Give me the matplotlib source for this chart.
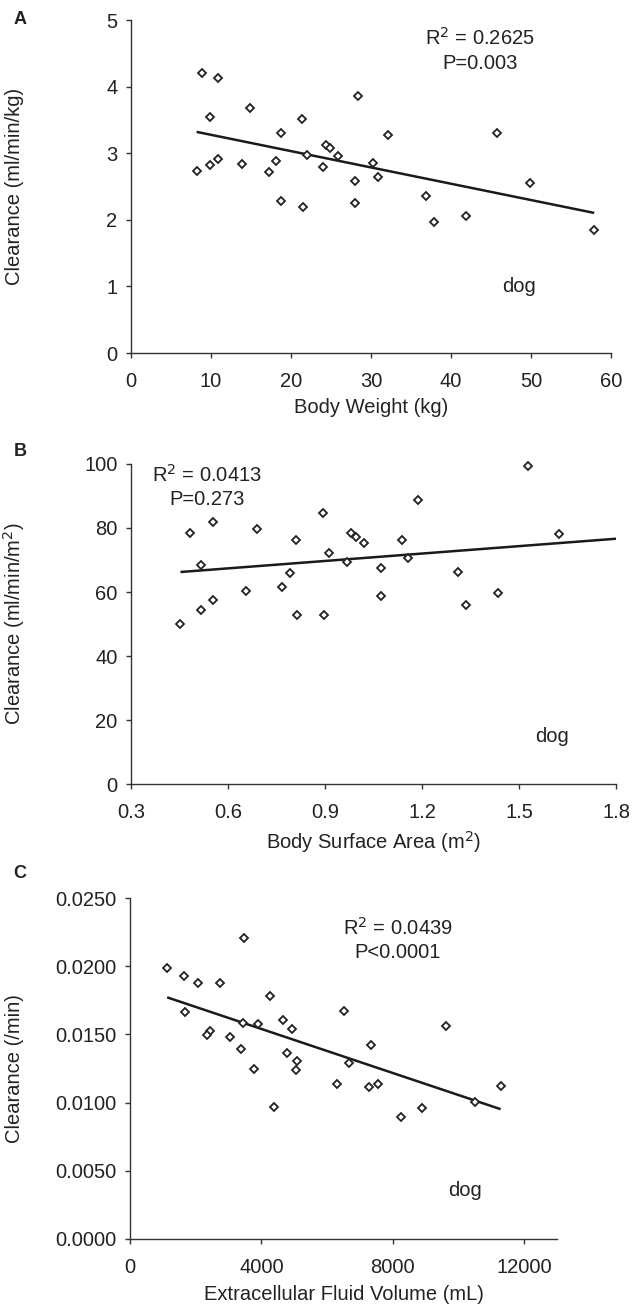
import numpy as np
import matplotlib
matplotlib.use("Agg")
import matplotlib.pyplot as plt
from matplotlib.ticker import FormatStrFormatter

plt.rcParams['font.family'] = ['Liberation Sans', 'DejaVu Sans']

# ---------------- data ----------------
# Panel A: body weight (kg) vs clearance (ml/min/kg)
bw_kg = [8.2, 8.9, 10.9, 9.9, 9.9, 10.9, 14.9, 13.9, 18.7, 18.1, 17.3, 18.7,
         21.4, 22.0, 21.5, 24.4, 24.9, 24.0, 25.9, 28.0, 28.0, 28.4, 30.2,
         30.9, 32.1, 36.9, 37.9, 41.9, 45.7, 49.9, 57.9]
cl_kg = [2.74, 4.20, 4.13, 3.55, 2.82, 2.91, 3.68, 2.84, 3.30, 2.88, 2.72, 2.28,
         3.52, 2.97, 2.19, 3.13, 3.08, 2.80, 2.96, 2.59, 2.25, 3.86, 2.86,
         2.64, 3.27, 2.35, 1.97, 2.05, 3.31, 2.55, 1.84]

# Panel B: body surface area (m2) vs clearance (ml/min/m2)
bsa_m2 = [0.453, 0.481, 0.517, 0.517, 0.554, 0.555, 0.657, 0.690, 0.768, 0.793,
          0.809, 0.814, 0.893, 0.896, 0.911, 0.968, 0.980, 0.996, 1.022, 1.074,
          1.074, 1.137, 1.157, 1.189, 1.311, 1.337, 1.436, 1.529, 1.625]
cl_m2 = [50.1, 78.4, 68.4, 54.3, 82.0, 57.6, 60.3, 79.7, 61.6, 65.9,
         76.4, 52.8, 84.7, 52.8, 72.1, 69.4, 78.4, 77.3, 75.3, 67.4,
         58.6, 76.1, 70.5, 88.6, 66.1, 55.8, 59.8, 99.3, 78.2]
# regression line shown in panel B (slope, intercept)
trend_b = [7.72, 62.75]

# Panel C: extracellular fluid volume (mL) vs clearance (/min)
ecf_ml = [1131, 1647, 1668, 2081, 2748, 2445, 2354, 3042, 3376, 3458, 3436,
          3882, 3761, 4277, 4377, 4659, 4944, 4780, 5096, 5044, 6521, 6673,
          6309, 7340, 7288, 7561, 9633, 8259, 8896, 10494, 11283]
cl_min = [0.01985, 0.01926, 0.01662, 0.01875, 0.01880, 0.01527, 0.01493,
          0.01478, 0.01392, 0.02206, 0.01586, 0.01576, 0.01245, 0.01779,
          0.00971, 0.01605, 0.01537, 0.01365, 0.01306, 0.01238, 0.01672,
          0.01292, 0.01140, 0.01424, 0.01113, 0.01140, 0.01564, 0.00895,
          0.00958, 0.01007, 0.01120]

# ---------------- layout ----------------
W, H = 632, 1308
fig = plt.figure(figsize=(W / 100, H / 100), dpi=100)

def px_axes(left, top, right, bottom):
    return fig.add_axes([left / W, 1 - bottom / H, (right - left) / W, (bottom - top) / H])

TXT = '#222222'
FS = 14.5

def style(ax):
    for s in ('top', 'right'):
        ax.spines[s].set_visible(False)
    for s in ('left', 'bottom'):
        ax.spines[s].set_color('#333333')
        ax.spines[s].set_linewidth(1.0)
    ax.tick_params(direction='out', length=3.8, width=1.0, color='#333333',
                   labelsize=FS, labelcolor=TXT)
    ax.tick_params(axis='x', pad=10)
    ax.tick_params(axis='y', pad=6)

def scatter_fit(ax, x, y, x_end=None, coef=None):
    x = np.asarray(x, float)
    y = np.asarray(y, float)
    ax.plot(x, y, linestyle='none', marker='D', markersize=4.2,
            markerfacecolor='white', markeredgecolor='#222222',
            markeredgewidth=1.3, zorder=3, clip_on=False)
    k, b = np.polyfit(x, y, 1) if coef is None else coef
    x0 = x.min()
    x1 = x.max() if x_end is None else x_end
    xs = np.array([x0, x1])
    ax.plot(xs, k * xs + b, color='#1a1a1a', linewidth=1.8, zorder=2,
            solid_capstyle='butt')

# Panel A
axA = px_axes(131, 20, 611, 353)
style(axA)
scatter_fit(axA, bw_kg, cl_kg)
axA.set_xlim(0, 60)
axA.set_ylim(0, 5)
axA.set_xticks(np.arange(0, 61, 10))
axA.set_yticks(np.arange(0, 6, 1))
axA.set_xlabel('Body Weight (kg)', fontsize=FS, color=TXT, labelpad=5)
axA.set_ylabel('Clearance (ml/min/kg)', fontsize=FS, color=TXT)
axA.yaxis.set_label_coords((24 - 131) / (611 - 131), 0.5)
axA.text((480 - 131) / 480, (353 - 38) / 333, 'R$^2$ = 0.2625', transform=axA.transAxes,
         ha='center', va='center', fontsize=FS, color=TXT)
axA.text((480 - 131) / 480, (353 - 63) / 333, 'P=0.003', transform=axA.transAxes,
         ha='center', va='center', fontsize=FS, color=TXT)
axA.text((519 - 131) / 480, (353 - 286) / 333, 'dog', transform=axA.transAxes,
         ha='center', va='center', fontsize=FS, color=TXT)
fig.text(20 / W, 1 - 20 / H, 'A', ha='center', va='center', fontsize=13,
         fontweight='bold', color=TXT)

# Panel B
axB = px_axes(131, 464, 616, 784)
style(axB)
scatter_fit(axB, bsa_m2, cl_m2, x_end=1.8, coef=trend_b)
axB.set_xlim(0.3, 1.8)
axB.set_ylim(0, 100)
axB.set_xticks(np.arange(0.3, 1.81, 0.3))
axB.set_yticks(np.arange(0, 101, 20))
axB.xaxis.set_major_formatter(FormatStrFormatter('%.1f'))
axB.set_xlabel('Body Surface Area (m$^2$)', fontsize=FS, color=TXT, labelpad=5)
axB.set_ylabel('Clearance (ml/min/m$^2$)', fontsize=FS, color=TXT)
axB.yaxis.set_label_coords((27 - 131) / (616 - 131), 0.5)
axB.text((207 - 131) / 485, (784 - 475) / 320, 'R$^2$ = 0.0413', transform=axB.transAxes,
         ha='center', va='center', fontsize=FS, color=TXT)
axB.text((207 - 131) / 485, (784 - 500) / 320, 'P=0.273', transform=axB.transAxes,
         ha='center', va='center', fontsize=FS, color=TXT)
axB.text((552 - 131) / 485, (784 - 736) / 320, 'dog', transform=axB.transAxes,
         ha='center', va='center', fontsize=FS, color=TXT)
fig.text(20 / W, 1 - 451 / H, 'B', ha='center', va='center', fontsize=13,
         fontweight='bold', color=TXT)

# Panel C
axC = px_axes(130, 898, 557, 1239)
style(axC)
scatter_fit(axC, ecf_ml, cl_min)
axC.set_xlim(0, 13000)
axC.set_ylim(0, 0.025)
axC.set_xticks(np.arange(0, 12001, 4000))
axC.set_yticks(np.arange(0, 0.02501, 0.005))
axC.yaxis.set_major_formatter(FormatStrFormatter('%.4f'))
axC.set_xlabel('Extracellular Fluid Volume (mL)', fontsize=FS, color=TXT, labelpad=6)
axC.set_ylabel('Clearance (/min)', fontsize=FS, color=TXT)
axC.yaxis.set_label_coords((24 - 130) / (557 - 130), 0.5)
axC.text((398 - 130) / 427, (1239 - 928) / 341, 'R$^2$ = 0.0439', transform=axC.transAxes,
         ha='center', va='center', fontsize=FS, color=TXT)
axC.text((398 - 130) / 427, (1239 - 953) / 341, 'P<0.0001', transform=axC.transAxes,
         ha='center', va='center', fontsize=FS, color=TXT)
axC.text((465 - 130) / 427, (1239 - 1190) / 341, 'dog', transform=axC.transAxes,
         ha='center', va='center', fontsize=FS, color=TXT)
fig.text(20 / W, 1 - 873 / H, 'C', ha='center', va='center', fontsize=13,
         fontweight='bold', color=TXT)

fig.savefig('out.png', dpi=100, facecolor='white')
